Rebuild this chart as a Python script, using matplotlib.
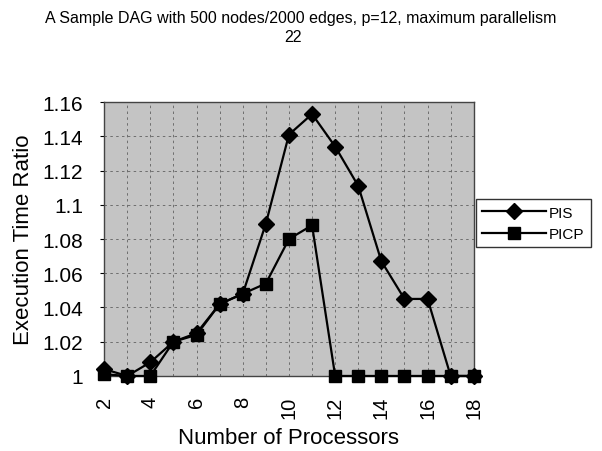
import matplotlib
matplotlib.use("Agg")
import matplotlib.pyplot as plt

# data
processors = list(range(2, 19))
pis = [1.004, 1.000, 1.008, 1.020, 1.025, 1.042, 1.048, 1.089, 1.141,
       1.153, 1.134, 1.111, 1.067, 1.045, 1.045, 1.000, 1.000]
picp = [1.001, 1.000, 1.000, 1.020, 1.024, 1.042, 1.048, 1.054, 1.080,
        1.088, 1.000, 1.000, 1.000, 1.000, 1.000, 1.000, 1.000]
y_ticks = [1.0, 1.02, 1.04, 1.06, 1.08, 1.1, 1.12, 1.14, 1.16]
y_labels = ["1", "1.02", "1.04", "1.06", "1.08", "1.1", "1.12", "1.14", "1.16"]
x_ticks = [2, 4, 6, 8, 10, 12, 14, 16, 18]

plt.rcParams["font.family"] = ["Liberation Sans", "DejaVu Sans"]

fig = plt.figure(figsize=(6.02, 4.52), dpi=100)
ax = fig.add_axes([0.173, 0.166, 0.614, 0.606])

ax.set_facecolor("#c4c4c4")
ax.plot(processors, pis, color="black", linewidth=1.6, marker="D",
        markersize=8.5, label="PIS", clip_on=False, zorder=3)
ax.plot(processors, picp, color="black", linewidth=1.6, marker="s",
        markersize=9, label="PICP", clip_on=False, zorder=3)

ax.set_xlim(2, 18)
ax.set_ylim(1.0, 1.16)
ax.set_yticks(y_ticks)
ax.set_yticklabels(y_labels, fontsize=15)
ax.set_xticks(processors, minor=True)
ax.set_xticks(x_ticks)
ax.set_xticklabels([str(v) for v in x_ticks], fontsize=14.5, rotation=90)
ax.tick_params(axis="x", which="both", length=0, pad=14)
ax.tick_params(axis="y", length=3, pad=12)

ax.grid(True, which="both", axis="x", color="#606060", linestyle=(0, (3, 4)), linewidth=0.6)
ax.grid(True, axis="y", color="#606060", linestyle=(0, (3, 4)), linewidth=0.6)
ax.set_axisbelow(True)
for s in ax.spines.values():
    s.set_color("#444444")
    s.set_linewidth(1.0)

ax.set_ylabel("Execution Time Ratio", fontsize=16, labelpad=6)
fig.text(0.479, 0.03, "Number of Processors", ha="center", va="center", fontsize=16)

fig.text(0.5, 0.958, "A Sample DAG with 500 nodes/2000 edges, p=12, maximum parallelism",
         ha="center", va="center", fontsize=11.5)
fig.text(0.487, 0.916, "22", ha="center", va="center", fontsize=11.5)

leg = ax.legend(loc="center left", bbox_to_anchor=(1.005, 0.557), fontsize=11,
                handlelength=4.2, frameon=True, fancybox=False, borderpad=0.4,
                labelspacing=0.5, handletextpad=0.2, borderaxespad=0)
leg.get_frame().set_edgecolor("black")
leg.get_frame().set_linewidth(1.0)

fig.savefig("out.png", dpi=100)
